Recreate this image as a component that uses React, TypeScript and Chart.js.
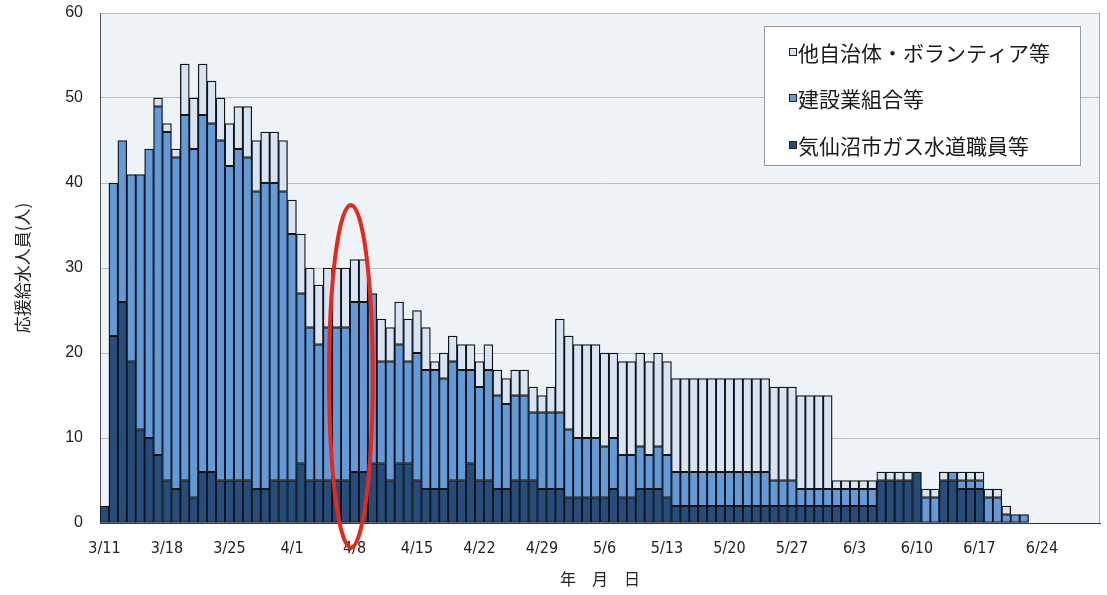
import React, { useEffect, useRef } from 'react';
import Chart from 'chart.js/auto';

// Daily categories from 3/11 to 6/30 (2011)
const FIRST_DAY = { year: 2011, monthIndex: 2, day: 11 };
const DAY_COUNT = 112;
const CATEGORIES: string[] = Array.from({ length: DAY_COUNT }, (_, i) => {
  const d = new Date(FIRST_DAY.year, FIRST_DAY.monthIndex, FIRST_DAY.day + i);
  return `${d.getMonth() + 1}/${d.getDate()}`;
});

const TICK_LABELS = ['3/11', '3/18', '3/25', '4/1', '4/8', '4/15', '4/22', '4/29', '5/6', '5/13', '5/20', '5/27', '6/3', '6/10', '6/17', '6/24'];

const SERIES_LABELS = ['気仙沼市ガス水道職員等', '建設業組合等', '他自治体・ボランティア等'];

// 気仙沼市ガス水道職員等 (bottom)
const GAS_WATER_STAFF = [
  2, 22, 26, 19, 11, 10, 8, 5, 4, 5,
  3, 6, 6, 5, 5, 5, 5, 4, 4, 5,
  5, 5, 7, 5, 5, 5, 5, 5, 6, 6,
  7, 7, 5, 7, 7, 5, 4, 4, 4, 5,
  5, 7, 5, 5, 4, 4, 5, 5, 5, 4,
  4, 4, 3, 3, 3, 3, 3, 4, 3, 3,
  4, 4, 4, 3, 2, 2, 2, 2, 2, 2,
  2, 2, 2, 2, 2, 2, 2, 2, 2, 2,
  2, 2, 2, 2, 2, 2, 2, 5, 5, 5,
  5, 6, 0, 0, 5, 5, 4, 4, 4, 0,
  0, 0, 0, 0,
];

// 建設業組合等 (middle)
const CONSTRUCTION_UNION = [
  0, 18, 19, 22, 30, 34, 41, 41, 39, 43,
  41, 42, 41, 40, 37, 39, 38, 35, 36, 35,
  34, 29, 20, 18, 16, 18, 18, 18, 20, 20,
  20, 12, 14, 14, 12, 15, 14, 14, 13, 14,
  13, 11, 11, 13, 11, 10, 10, 10, 8, 9,
  9, 9, 8, 7, 7, 7, 6, 6, 5, 5,
  5, 4, 5, 5, 4, 4, 4, 4, 4, 4,
  4, 4, 4, 4, 4, 3, 3, 3, 2, 2,
  2, 2, 2, 2, 2, 2, 2, 0, 0, 0,
  0, 0, 3, 3, 0, 1, 1, 1, 1, 3,
  3, 1, 1, 1,
];

// 他自治体・ボランティア等 (top)
const OTHER_MUNICIPALITIES = [
  0, 0, 0, 0, 0, 0, 1, 1, 1, 6,
  6, 6, 5, 5, 5, 5, 6, 6, 6, 6,
  6, 4, 7, 7, 7, 7, 7, 7, 5, 5,
  0, 5, 4, 5, 5, 5, 5, 1, 3, 3,
  3, 3, 3, 3, 3, 3, 3, 3, 3, 2,
  3, 11, 11, 11, 11, 11, 11, 10, 11, 11,
  11, 11, 11, 11, 11, 11, 11, 11, 11, 11,
  11, 11, 11, 11, 11, 11, 11, 11, 11, 11,
  11, 11, 1, 1, 1, 1, 1, 1, 1, 1,
  1, 0, 1, 1, 1, 0, 1, 1, 1, 1,
  1, 1, 0, 0,
];

const Y_TICKS = [0, 10, 20, 30, 40, 50, 60];

// Red highlight ellipse (around 4/7-4/8), in data units
const HIGHLIGHT = { centerIndex: 27.6, halfWidthIndex: 2.45, topValue: 37.4, bottomValue: -2.9 };

const COLORS = ['#244c7c', '#629ada', '#d7e4f4'];
const JP_FONT = "'Noto Sans CJK JP', 'Noto Sans', sans-serif";

export default function App() {
  const ref = useRef<HTMLCanvasElement>(null);

  useEffect(() => {
    document.body.style.margin = '0';
    const toData = (a: number[]) => CATEGORIES.map((_, i) => (a[i] ? a[i] : null));
    const series = [GAS_WATER_STAFF, CONSTRUCTION_UNION, OTHER_MUNICIPALITIES];

    const bgPlugin = {
      id: 'plotBg',
      beforeDraw(chart: any) {
        const { ctx, chartArea: a } = chart;
        ctx.save();
        ctx.fillStyle = '#eef3f8';
        ctx.fillRect(a.left, a.top, a.right - a.left, a.bottom - a.top);
        ctx.restore();
      },
      afterDraw(chart: any) {
        const { ctx, chartArea: a } = chart;
        ctx.save();
        ctx.strokeStyle = '#a8a8a8';
        ctx.lineWidth = 1;
        ctx.beginPath();
        ctx.moveTo(a.right - 0.5, a.top);
        ctx.lineTo(a.right - 0.5, a.bottom);
        ctx.stroke();
        ctx.restore();
      },
    };

    const ellipsePlugin = {
      id: 'highlightEllipse',
      afterDraw(chart: any) {
        const { ctx } = chart;
        const xs = chart.scales.x;
        const ys = chart.scales.y;
        const cx = xs.getPixelForValue(HIGHLIGHT.centerIndex);
        const rx = Math.abs(xs.getPixelForValue(HIGHLIGHT.centerIndex + HIGHLIGHT.halfWidthIndex) - cx);
        const yTop = ys.getPixelForValue(HIGHLIGHT.topValue);
        const yBot = ys.getPixelForValue(HIGHLIGHT.bottomValue);
        ctx.save();
        ctx.strokeStyle = '#e8281c';
        ctx.lineWidth = 4;
        ctx.beginPath();
        ctx.ellipse(cx, (yTop + yBot) / 2, rx, (yBot - yTop) / 2, 0, 0, Math.PI * 2);
        ctx.stroke();
        ctx.restore();
      },
    };

    const legendPlugin = {
      id: 'boxLegend',
      afterDraw(chart: any) {
        const { ctx } = chart;
        const box = { x: 764, y: 26, w: 316, h: 139 };
        ctx.save();
        ctx.fillStyle = '#ffffff';
        ctx.fillRect(box.x, box.y, box.w, box.h);
        ctx.strokeStyle = '#9a9a9a';
        ctx.lineWidth = 1;
        ctx.strokeRect(box.x + 0.5, box.y + 0.5, box.w, box.h);
        const rows = [52, 98, 145];
        const ds = chart.data.datasets.slice().reverse();
        ds.forEach((d: any, i: number) => {
          const y = rows[i];
          ctx.fillStyle = d.backgroundColor;
          ctx.fillRect(789, y - 4, 8, 8);
          ctx.strokeStyle = '#222';
          ctx.lineWidth = 1;
          ctx.strokeRect(789.5, y - 3.5, 7, 7);
          ctx.fillStyle = '#1a1a1a';
          ctx.font = `21px ${JP_FONT}`;
          ctx.textBaseline = 'middle';
          ctx.textAlign = 'left';
          ctx.fillText(d.label, 798, y + 1);
        });
        ctx.restore();
      },
    };

    const chart = new Chart(ref.current!, {
      type: 'bar',
      data: {
        labels: CATEGORIES,
        datasets: series.map((s, i) => ({
          label: SERIES_LABELS[i],
          data: toData(s),
          backgroundColor: COLORS[i],
          borderColor: '#121212',
          borderWidth: 1.3,
          borderSkipped: false,
          categoryPercentage: 1,
          barPercentage: 1,
        })),
      },
      options: {
        animation: false,
        responsive: true,
        maintainAspectRatio: false,
        layout: { padding: { top: 13, right: 7, bottom: 0, left: 0 } },
        plugins: { legend: { display: false }, tooltip: { enabled: false } },
        scales: {
          x: {
            stacked: true,
            offset: true,
            grid: { display: false, drawTicks: false },
            border: { display: true, color: '#333', width: 1 },
            ticks: {
              autoSkip: false,
              maxRotation: 0,
              minRotation: 0,
              padding: 16,
              color: '#222',
              font: { family: "'Liberation Sans Narrow', 'DejaVu Sans Condensed', 'Liberation Sans', sans-serif", size: 16 },
              callback: (_v: any, i: number) => (TICK_LABELS.includes(CATEGORIES[i]) ? CATEGORIES[i] : ''),
            },
            title: {
              display: true,
              text: '年　月　日',
              color: '#222',
              font: { family: JP_FONT, size: 16 },
              padding: { top: 0, bottom: 6 },
            },
            afterFit: (s: any) => { s.height = 72; s.paddingLeft = 0; s.paddingRight = 0; },
          },
          y: {
            stacked: true,
            min: 0,
            max: 60,
            afterBuildTicks: (s: any) => { s.ticks = Y_TICKS.map((v) => ({ value: v })); },
            grid: { color: '#bcbcbc', drawTicks: false, lineWidth: 1 },
            border: { display: true, color: '#555', width: 1 },
            ticks: {
              padding: 17,
              color: '#222',
              font: { family: "'Liberation Sans', Arial, sans-serif", size: 16 },
            },
            title: {
              display: true,
              text: '応援給水人員(人)',
              color: '#222',
              font: { family: JP_FONT, size: 17 },
              padding: { top: 12, bottom: 0 },
            },
            afterFit: (s: any) => { s.width = 100; s.paddingTop = 0; s.paddingBottom = 0; },
          },
        },
      },
      plugins: [bgPlugin, legendPlugin, ellipsePlugin],
    } as any);

    return () => chart.destroy();
  }, []);

  return (
    <div style={{ position: 'absolute', left: 0, top: 0, width: 1107, height: 595, background: '#ffffff' }}>
      <canvas ref={ref} />
    </div>
  );
}
